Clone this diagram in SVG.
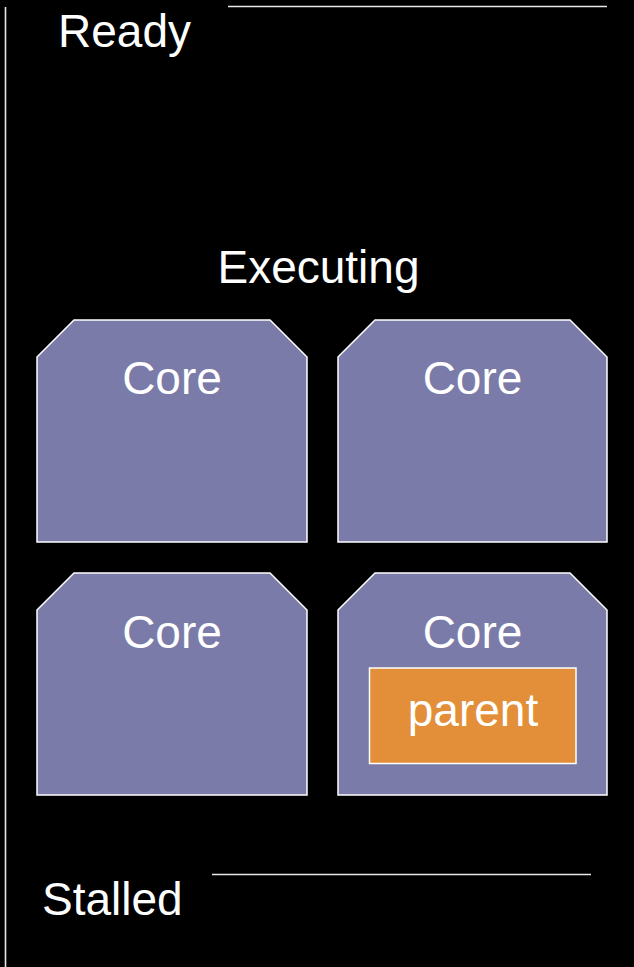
<svg xmlns="http://www.w3.org/2000/svg" width="634" height="967" viewBox="0 0 634 967">
  <defs>
    <style>
      .label { font-family: "Liberation Sans", Arial, sans-serif; font-size: 46px; fill: #ffffff; }
      .mid { text-anchor: middle; }
      .rule { stroke: #e8e8e8; stroke-width: 1.6; fill: none; }
      .core { fill: #7a7ba8; stroke: #ffffff; stroke-width: 1.5; }
      .task { fill: #e38f3a; stroke: #ffffff; stroke-width: 1.5; }
    </style>
  </defs>

  <rect x="0" y="0" width="634" height="967" fill="#000000"/>

  <!-- state dividers -->
  <g id="dividers">
    <line class="rule" x1="5.5" y1="7" x2="5.5" y2="967"/>
    <line class="rule" x1="228" y1="6.5" x2="607" y2="6.5"/>
    <line class="rule" x1="212" y1="874.5" x2="591" y2="874.5"/>
  </g>

  <g id="state-ready">
    <text class="label" x="58" y="47">Ready</text>
  </g>

  <g id="state-executing">
    <text class="label mid" x="318.5" y="283">Executing</text>
  </g>

  <g id="state-stalled">
    <text class="label" x="42" y="915">Stalled</text>
  </g>

  <!-- cores: chamfered boxes, 270 x 222 -->
  <g id="core-1">
    <path class="core" d="M37,357 L74,320 L270,320 L307,357 L307,542 L37,542 Z"/>
    <text class="label mid" x="172" y="394">Core</text>
  </g>

  <g id="core-2">
    <path class="core" d="M338,357 L375,320 L570,320 L607,357 L607,542 L338,542 Z"/>
    <text class="label mid" x="472.5" y="394">Core</text>
  </g>

  <g id="core-3">
    <path class="core" d="M37,610 L74,573 L270,573 L307,610 L307,795 L37,795 Z"/>
    <text class="label mid" x="172" y="648">Core</text>
  </g>

  <g id="core-4">
    <path class="core" d="M338,610 L375,573 L570,573 L607,610 L607,795 L338,795 Z"/>
    <text class="label mid" x="472.5" y="648">Core</text>
  </g>

  <g id="task-parent">
    <rect class="task" x="369.5" y="668" width="206.5" height="95.5"/>
    <text class="label mid" x="473" y="726">parent</text>
  </g>
</svg>
